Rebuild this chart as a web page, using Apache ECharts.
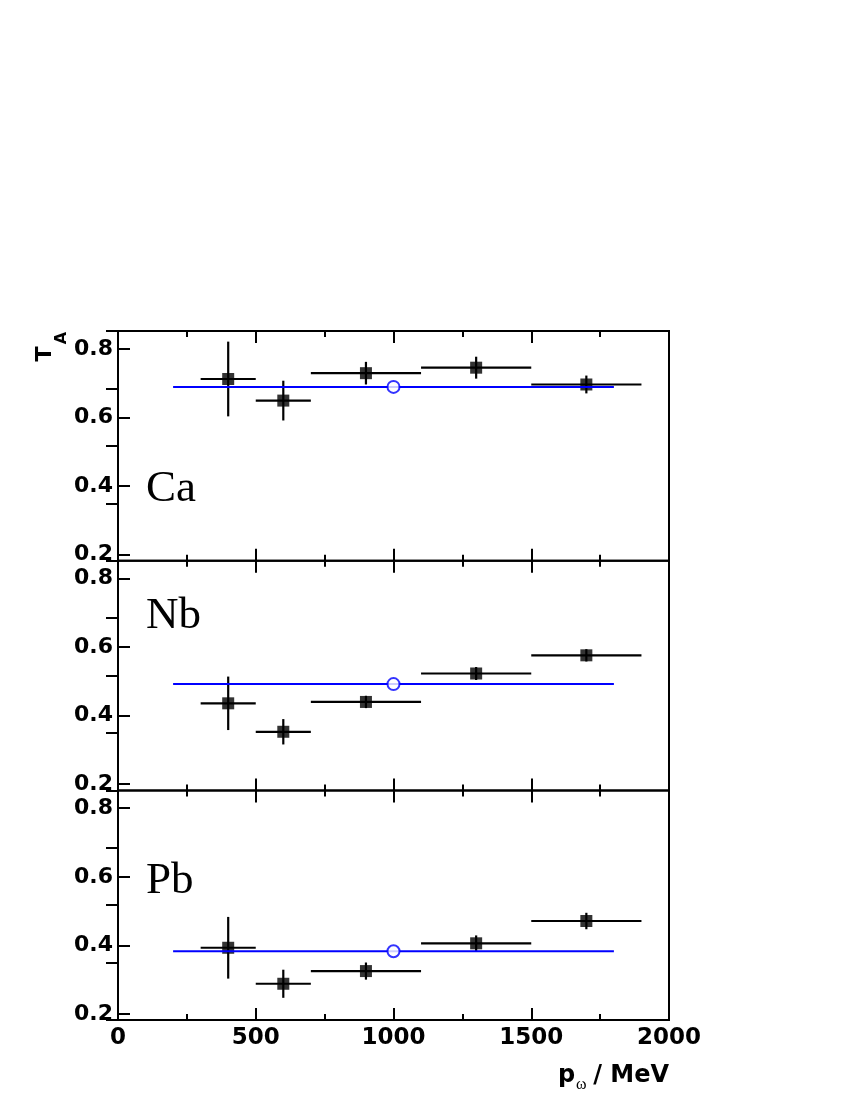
<!DOCTYPE html>
<html>
<head>
<meta charset="utf-8">
<script src="https://cdn.jsdelivr.net/npm/echarts@6/dist/echarts.min.js"></script>
<style>html,body{margin:0;padding:0;background:#fff;}#c{width:850px;height:1100px;}</style>
</head>
<body>
<div id="c"></div>
<script>
// ---- data ----
const panelNames = ['Ca', 'Nb', 'Pb'];
const xCenters = [400, 600, 900, 1300, 1700];
const xHalfWidths = [100, 100, 200, 200, 200];
const caValues = [0.712, 0.649, 0.729, 0.745, 0.696];
const caErrors = [0.109, 0.058, 0.033, 0.032, 0.026];
const nbValues = [0.436, 0.353, 0.440, 0.523, 0.576];
const nbErrors = [0.078, 0.037, 0.018, 0.019, 0.018];
const pbValues = [0.393, 0.288, 0.325, 0.406, 0.471];
const pbErrors = [0.090, 0.041, 0.025, 0.023, 0.024];
const fitValues = [0.689, 0.492, 0.383];
const fitRange = [200, 1800];
const fitPointX = 1000;
const yTicks = [0.2, 0.4, 0.6, 0.8];
const xTicks = [0, 500, 1000, 1500, 2000];

const panelValues = [caValues, nbValues, pbValues];
const panelErrors = [caErrors, nbErrors, pbErrors];

const GL = 118, GW = 551, GT = 331, GH = 229.7;
const YMIN = 0.182, YMAX = 0.852;
const labelFont = 'DejaVu Sans';

const grids = [], xAxes = [], yAxes = [], series = [], graphics = [];

for (let i = 0; i < 3; i++) {
  grids.push({left: GL, width: GW, top: GT + GH * i, height: GH, show: true,
    borderColor: '#000', borderWidth: 2, backgroundColor: 'transparent', containLabel: false});
  const isLast = i === 2;
  const xBase = {
    gridIndex: i, type: 'value', min: 0, max: 2000, interval: 500,
    axisLine: {show: false}, splitLine: {show: false},
    axisTick: {show: true, inside: true, length: 12, lineStyle: {color: '#000', width: 2}},
    minorTick: {show: true, splitNumber: 2, length: 6, lineStyle: {color: '#000', width: 2}},
  };
  xAxes.push(Object.assign({}, xBase, {position: 'bottom',
    axisLabel: {show: isLast, color: '#000', fontFamily: labelFont, fontWeight: 'bold', fontSize: 23, margin: 6,
      customValues: xTicks, formatter: v => String(Math.round(v))}}));
  xAxes.push(Object.assign({}, xBase, {position: 'top', axisLabel: {show: false}}));
  yAxes.push({gridIndex: i, type: 'value', position: 'left', min: YMIN, max: YMAX,
    axisLine: {show: false}, splitLine: {show: false},
    axisTick: {show: true, inside: true, length: 12, lineStyle: {color: '#000', width: 2}, customValues: yTicks},
    axisLabel: {show: true, color: '#000', fontFamily: labelFont, fontWeight: 'bold', fontSize: 22, margin: 5,
      customValues: yTicks, formatter: v => v.toFixed(1)}});
  yAxes.push({gridIndex: i, type: 'value', position: 'right', min: 0, max: 4, interval: 1,
    axisLine: {show: false}, splitLine: {show: false},
    axisTick: {show: true, inside: true, length: 12, lineStyle: {color: '#000', width: 2}},
    axisLabel: {show: false}});

  const vals = panelValues[i], errs = panelErrors[i];
  const errData = xCenters.map((x, k) => [x, vals[k], xHalfWidths[k], errs[k]]);
  series.push({
    type: 'custom', xAxisIndex: 2 * i, yAxisIndex: 2 * i, data: errData, z: 2,
    renderItem: function (params, api) {
      const x = api.value(0), y = api.value(1), dx = api.value(2), dy = api.value(3);
      const L = api.coord([x - dx, y]), R = api.coord([x + dx, y]);
      const T = api.coord([x, y + dy]), B = api.coord([x, y - dy]);
      return {type: 'group', children: [
        {type: 'line', shape: {x1: L[0], y1: L[1], x2: R[0], y2: R[1]}, style: {stroke: '#000', lineWidth: 2.2}},
        {type: 'line', shape: {x1: T[0], y1: T[1], x2: B[0], y2: B[1]}, style: {stroke: '#000', lineWidth: 2.2}}
      ]};
    }
  });
  series.push({
    type: 'scatter', xAxisIndex: 2 * i, yAxisIndex: 2 * i, z: 3,
    data: xCenters.map((x, k) => [x, vals[k]]),
    symbol: 'rect', symbolSize: 12, itemStyle: {color: '#000'}
  });
  series.push({
    type: 'line', xAxisIndex: 2 * i, yAxisIndex: 2 * i, z: 4,
    data: [[fitRange[0], fitValues[i]], [fitRange[1], fitValues[i]]],
    showSymbol: false, symbol: 'none', lineStyle: {color: '#0000ff', width: 2}
  });
  series.push({
    type: 'scatter', xAxisIndex: 2 * i, yAxisIndex: 2 * i, z: 5,
    data: [[fitPointX, fitValues[i]]],
    symbol: 'circle', symbolSize: 12, itemStyle: {color: '#fff', borderColor: '#0000ff', borderWidth: 2}
  });
}

const nameY = [489, 616, 881];
for (let i = 0; i < 3; i++) {
  graphics.push({type: 'text', x: 146, y: nameY[i], z: 10,
    style: {text: panelNames[i], fill: '#000', fontFamily: 'Liberation Serif', fontSize: 45,
      align: 'left', verticalAlign: 'middle'}});
}
// y axis title T_A (rotated)
graphics.push({type: 'text', x: 45, y: 354, rotation: Math.PI / 2, z: 10,
  style: {text: 'T', fill: '#000', fontFamily: labelFont, fontWeight: 'bold', fontSize: 22, align: 'center', verticalAlign: 'middle'}});
graphics.push({type: 'text', x: 62, y: 338, rotation: Math.PI / 2, z: 10,
  style: {text: 'A', fill: '#000', fontFamily: labelFont, fontWeight: 'bold', fontSize: 16, align: 'center', verticalAlign: 'middle'}});
// x axis title p_ω / MeV
graphics.push({type: 'text', x: 558, y: 1076, z: 10,
  style: {text: 'p', fill: '#000', fontFamily: labelFont, fontWeight: 'bold', fontSize: 24, align: 'left', verticalAlign: 'middle'}});
graphics.push({type: 'text', x: 576, y: 1085, z: 10,
  style: {text: 'ω', fill: '#000', fontFamily: 'Liberation Serif', fontSize: 16, align: 'left', verticalAlign: 'middle'}});
graphics.push({type: 'text', x: 669, y: 1076, z: 10,
  style: {text: '/ MeV', fill: '#000', fontFamily: labelFont, fontWeight: 'bold', fontSize: 24, align: 'right', verticalAlign: 'middle'}});

const chart = echarts.init(document.getElementById('c'), null, {renderer: 'canvas'});
chart.setOption({
  backgroundColor: '#fff', animation: false,
  grid: grids, xAxis: xAxes, yAxis: yAxes, series: series, graphic: graphics
});
</script>
</body>
</html>
